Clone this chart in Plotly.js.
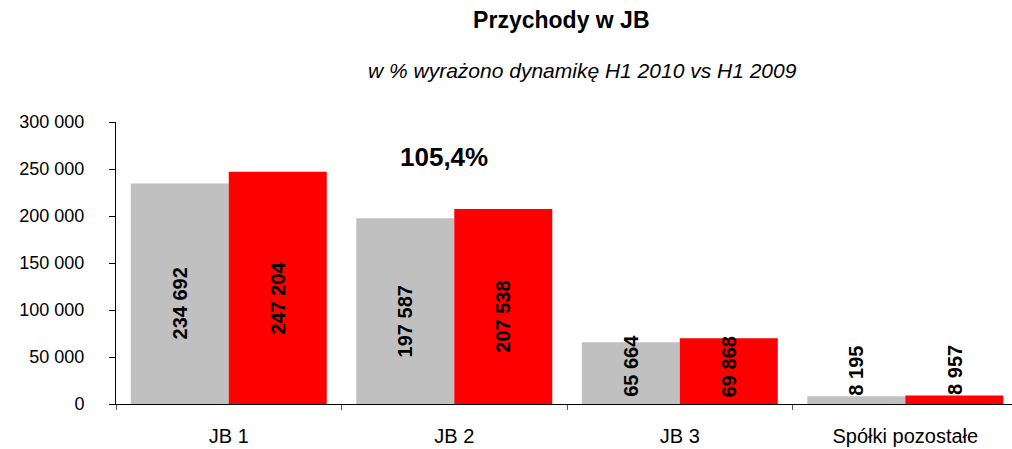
<!DOCTYPE html>
<html>
<head>
<meta charset="utf-8">
<script src="https://cdn.plot.ly/plotly-3.0.1.min.js"></script>
<style>html,body{margin:0;padding:0;background:#fff;overflow:hidden}</style>
</head>
<body>
<div id="chart" style="width:1012px;height:449px"></div>
<script>
var categories = ['JB 1', 'JB 2', 'JB 3', 'Spółki pozostałe'];
var values2009 = [234692, 197587, 65664, 8195];
var values2010 = [247204, 207538, 69868, 8957];
var labelModes = ['middle', 'middle', 'base', 'above'];
var dynamicsLabel = '105,4%';
var titleText = 'Przychody w JB';
var subtitleText = 'w % wyrażono dynamikę H1 2010 vs H1 2009';

function fmt(v) { return String(v).replace(/\B(?=(\d{3})+(?!\d))/g, ' '); }

var font = 'Liberation Sans, Arial, sans-serif';
var textFont = {family: font, size: 20, color: '#000', weight: 'bold'};
var bargap = 0.131;
var barOffset = (1 - bargap) / 4;

var traces = [
  {type: 'bar', name: 'H1 2009', x: categories, y: values2009, marker: {color: '#C0C0C0'}, hoverinfo: 'none'},
  {type: 'bar', name: 'H1 2010', x: categories, y: values2010, marker: {color: '#FF0000'}, hoverinfo: 'none'}
];

var labels = [];
[values2009, values2010].forEach(function (vals, s) {
  vals.forEach(function (v, i) {
    var mode = labelModes[i];
    var a = {text: fmt(v), xref: 'x', yref: 'y', x: i + (s === 0 ? -barOffset : barOffset),
             textangle: -90, showarrow: false, font: textFont, xanchor: 'center'};
    if (mode === 'middle') { a.y = v / 2; a.yanchor = 'middle'; a.yshift = -10; }
    else if (mode === 'base') { a.y = 0; a.yanchor = 'bottom'; a.yshift = 5; }
    else { a.y = v; a.yanchor = 'bottom'; a.yshift = -1; }
    labels.push(a);
  });
});

var layout = {
  width: 1012, height: 449,
  margin: {l: 116, r: 0, t: 122, b: 45},
  paper_bgcolor: '#fff', plot_bgcolor: '#fff',
  separators: ', ',
  showlegend: false,
  barmode: 'group', bargap: bargap, bargroupgap: 0,
  font: {family: font, size: 18, color: '#000'},
  title: {text: titleText, font: {family: font, size: 23, weight: 'bold', color: '#000'},
          x: 0.497, xref: 'paper', xanchor: 'center', y: 1 - 20/449, yref: 'container', yanchor: 'middle'},
  xaxis: {type: 'category', range: [-0.5, 3.473], showline: true, linecolor: '#000', linewidth: 1,
          ticks: 'outside', tickson: 'boundaries', ticklen: 5, tickcolor: '#555', tickwidth: 1,
          ticklabelstandoff: 14,
          showgrid: false, zeroline: false, tickfont: {family: font, size: 20, color: '#000'},
          fixedrange: true},
  yaxis: {range: [0, 300000], dtick: 50000, tickformat: ',d', showline: true, linecolor: '#000', linewidth: 1,
          ticks: 'outside', ticklen: 6, tickcolor: '#000', showgrid: false, zeroline: false,
          ticklabelstandoff: 21,
          tickfont: {family: font, size: 18, color: '#000'}, fixedrange: true},
  annotations: [
    {text: subtitleText, xref: 'paper', yref: 'paper', x: (582 - 116) / 896, y: 1 + (122 - 71) / 282,
     xanchor: 'center', yanchor: 'middle', showarrow: false,
     font: {family: font, size: 21, style: 'italic', color: '#000'}},
    {text: dynamicsLabel, xref: 'paper', yref: 'paper', x: (444 - 116) / 896, y: (404 - 157) / 282,
     xanchor: 'center', yanchor: 'middle', showarrow: false,
     font: {family: font, size: 26, weight: 'bold', color: '#000'}}
  ].concat(labels)
};

Plotly.newPlot('chart', traces, layout, {displayModeBar: false, staticPlot: true});
</script>
</body>
</html>
